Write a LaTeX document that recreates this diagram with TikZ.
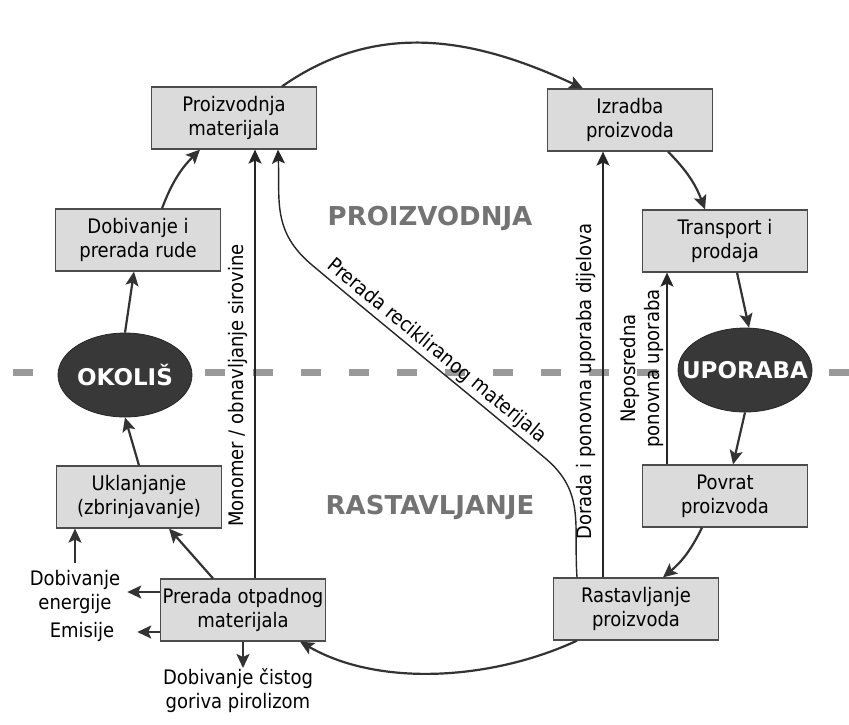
\documentclass[tikz,border=0pt]{standalone}
\usepackage{fontspec}
\setmainfont{DejaVu Sans Condensed}
\newfontfamily\headfont{DejaVu Sans}
\usetikzlibrary{arrows.meta,shapes.geometric,calc}

\begin{document}
\begin{tikzpicture}[x=0.5pt,y=-0.5pt,
  every node/.style={font=\fontsize{10}{12}\selectfont,align=center},
  box/.style={draw=black!70,line width=0.6pt,fill=black!14,minimum width=82.5pt,minimum height=31pt,inner sep=0.5pt},
  zone/.style={ellipse,draw=black!85,fill=black!78,minimum width=67pt,minimum height=42pt,inner ysep=0pt,inner xsep=-10pt,text=white,font=\headfont\bfseries\fontsize{11.5}{13}\selectfont},
  region/.style={text=black!55,font=\headfont\bfseries\fontsize{13}{15}\selectfont},
  flow/.style={draw=black!80,line width=1.1pt,-{Stealth[length=7pt,width=6.5pt,inset=1.5pt]}},
  route/.style={draw=black!85,line width=0.9pt,-{Stealth[length=7pt,width=6.5pt,inset=1.5pt]}},
  divider/.style={draw=black!40,line width=3.5pt,dash pattern=on 10pt off 14pt}]
\useasboundingbox[fill=white] (0,0) rectangle (849,724);

\draw[divider] (13,372) -- (849,372);

\node (proi) [region] at (430,218) {PROIZVODNJA};
\node (rast) [region] at (430,507) {RASTAVLJANJE};

\node (mat) [box] at (234,118) {Proizvodnja\\materijala};
\node (izr) [box] at (630,120) {Izradba\\proizvoda};
\node (rud) [box] at (138,240) {Dobivanje i\\prerada rude};
\node (tra) [box] at (725,241) {Transport i\\prodaja};
\node (oko) [zone] at (125,375) {OKOLIŠ};
\node (upo) [zone] at (745,370) {UPORABA};
\node (ukl) [box] at (139,497) {Uklanjanje\\(zbrinjavanje)};
\node (otp) [box] at (243,610) {Prerada otpadnog\\materijala};
\node (pov) [box] at (725,496) {Povrat\\proizvoda};
\node (ras) [box] at (636,609) {Rastavljanje\\proizvoda};

\node (ene) at (75,592) {Dobivanje\\energije};
\node (emi) at (82,632) {Emisije};
\node (pir) [anchor=north,inner sep=0pt] at (238,668) {Dobivanje čistog\\goriva pirolizom};

\draw[flow] ([xshift=24pt]mat.north) to[out=35,in=155] ([xshift=-23.5pt]izr.north);
\draw[flow] ([xshift=19pt]izr.south) to[bend left=12] ([xshift=-10pt]tra.south |- tra.north);
\draw[flow] ([xshift=6pt]tra.south) -- ([xshift=2pt]upo.north);
\draw[flow] (upo.south) -- ([xshift=4pt]pov.north);
\draw[flow] ([xshift=-11.5pt]pov.south) to[bend left=12] ([xshift=13.5pt]ras.north);
\draw[flow] ([xshift=-29.5pt]ras.south) to[out=-155,in=-30,looseness=0.85] ([xshift=28.5pt]otp.south);
\draw[flow] ([xshift=-15pt]otp.north) -- ([xshift=15pt]ukl.south);
\draw[flow] (ukl.north) -- (oko.south);
\draw[flow] (oko.north) -- ([xshift=-2pt]rud.south);
\draw[flow] ([xshift=12pt]rud.north) to[bend left=12] ([xshift=-17pt]mat.south);

\draw[flow] (otp.west |- ene.east) -- (ene.east);
\draw[flow] (otp.west |- emi.east) -- ([xshift=8pt]emi.east);
\draw[flow] (ene.north) -- (ene.north |- ukl.south);
\draw[flow] (otp.south) -- (otp.south |- pir.north);

\draw[route] ([xshift=6pt]otp.north) -- ([xshift=6pt]otp.north |- mat.south)
  node[pos=0.45,sloped,above] (monlbl) {Monomer / obnavljanje sirovine};
\draw[route] ([xshift=-16.5pt]ras.north) -- ([xshift=-16.5pt]ras.north |- izr.south)
  node[pos=0.46,sloped,above] (dorlbl) {Dorada i ponovna uporaba dijelova};
\draw[route] ([xshift=-29pt]pov.north) -- ([xshift=-29pt]pov.north |- tra.south)
  node[midway,sloped,above,inner sep=1pt] (neplbl) {Neposredna\\ponovna uporaba};

\coordinate (reclow) at (545,458);
\coordinate (rechigh) at (312,265);
\draw[route,line width=0.7pt] ([xshift=-29.5pt]ras.north) to[out=94,in=-40,looseness=1.1] (reclow)
  to[out=140,in=-40] (rechigh)
  to[out=140,in=-88,looseness=1.1] ([xshift=22pt]mat.south);
\node (reclbl) [rotate=-39.5,anchor=south,inner sep=1.5pt] at ($(reclow)!0.5!(rechigh)$) {Prerada recikliranog materijala};
\end{tikzpicture}
\end{document}
